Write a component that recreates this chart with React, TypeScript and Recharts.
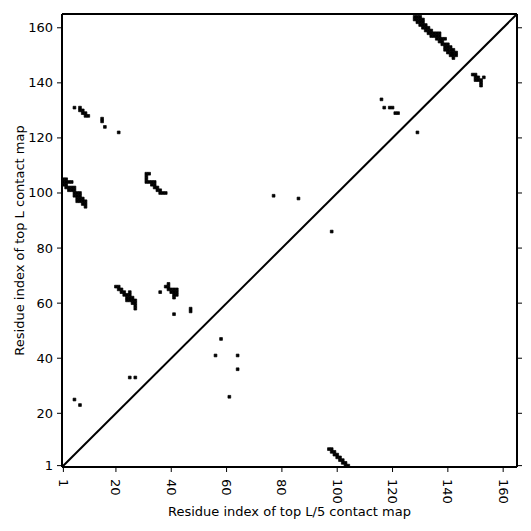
import React from 'react';
import { ComposedChart, XAxis, YAxis, ReferenceArea, ReferenceLine } from 'recharts';

// Contacts of the top L contact map (upper-left triangle): [residue i (x), residue j (y)]
const topLContacts: [number, number][] = [
  // cluster near (1..9, 95..105)
  [1, 105], [2, 105], [1, 104], [2, 104], [3, 104], [4, 104], [1, 103], [2, 103],
  [2, 102], [3, 102], [4, 102], [5, 102], [3, 101], [4, 101], [5, 101],
  [5, 100], [6, 100], [7, 100], [5, 99], [6, 99], [7, 99],
  [6, 98], [7, 98], [8, 98], [6, 97], [7, 97], [8, 97], [9, 97], [8, 96], [9, 96], [9, 95],
  // cluster near (5..21, 122..131)
  [5, 131], [7, 131], [7, 130], [8, 130], [8, 129], [9, 129], [9, 128], [10, 128],
  [15, 127], [15, 126], [16, 124], [21, 122],
  // cluster near (31..38, 100..107)
  [31, 107], [32, 107], [31, 106], [31, 105], [31, 104], [32, 104], [33, 104], [34, 104],
  [33, 103], [34, 103], [34, 102], [35, 102], [35, 101], [36, 101], [36, 100], [37, 100], [38, 100],
  // cluster near (20..27, 58..66)
  [20, 66], [21, 66], [21, 65], [22, 65], [22, 64], [23, 64], [25, 64],
  [23, 63], [24, 63], [25, 63], [24, 62], [25, 62], [26, 62],
  [24, 61], [25, 61], [26, 61], [27, 61], [26, 60], [27, 60], [27, 59], [27, 58],
  // cluster near (36..47, 56..67)
  [36, 64], [39, 67], [38, 66], [39, 66], [39, 65], [40, 65], [41, 65], [42, 65],
  [40, 64], [41, 64], [42, 64], [41, 63], [42, 63], [41, 62],
  [41, 56], [47, 58], [47, 57],
  // isolated points
  [58, 47], [56, 41], [64, 41], [64, 36], [61, 26], [25, 33], [27, 33], [5, 25], [7, 23],
  [77, 99], [86, 98],
  [116, 134], [117, 131], [119, 131], [120, 131], [121, 129], [122, 129],
  // cluster near (128..143, 149..164)
  [128, 164], [129, 164], [130, 164], [128, 163], [129, 163], [130, 163], [131, 163],
  [129, 162], [130, 162], [131, 162], [130, 161], [131, 161], [132, 161],
  [131, 160], [132, 160], [133, 160], [132, 159], [133, 159], [134, 159],
  [133, 158], [134, 158], [135, 158], [136, 158], [137, 158],
  [134, 157], [135, 157], [136, 157], [137, 157],
  [136, 156], [137, 156], [138, 156], [139, 156], [137, 155], [138, 155], [138, 154], [139, 154], [140, 154],
  [139, 153], [140, 153], [141, 153], [139, 152], [140, 152], [141, 152], [142, 152],
  [140, 151], [141, 151], [142, 151], [143, 151], [141, 150], [142, 150], [143, 150], [142, 149],
];

// Contacts of the top L/5 contact map (lower-right triangle)
const topL5Contacts: [number, number][] = [
  [98, 86], [129, 122],
  [149, 143], [150, 143], [150, 142], [151, 142], [153, 142],
  [150, 141], [151, 141], [152, 141], [152, 140], [152, 139],
  [97, 7], [98, 7], [98, 6], [99, 6], [99, 5], [100, 5], [100, 4], [101, 4],
  [101, 3], [102, 3], [102, 2], [103, 2], [103, 1], [104, 1],
];

const axisTicks = [1, 20, 40, 60, 80, 100, 120, 140, 160];
const axisDomain: [number, number] = [0.5, 165];

const FONT = 'DejaVu Sans';
const FS = 13;

const XTick = (props: any) => {
  const { x, y, payload } = props;
  return (
    <text
      x={x}
      y={y}
      transform={`rotate(90, ${x}, ${y})`}
      textAnchor="start"
      dominantBaseline="central"
      fontFamily={FONT}
      fontSize={FS}
      fill="#000"
    >
      {payload.value}
    </text>
  );
};

const YTick = (props: any) => {
  const { x, y, payload } = props;
  return (
    <text x={x} y={y} textAnchor="end" dominantBaseline="central" fontFamily={FONT} fontSize={FS} fill="#000">
      {payload.value}
    </text>
  );
};

const NoTick = () => <g />;

export default function App() {
  const cells = [...topLContacts, ...topL5Contacts];
  return (
    <div style={{ position: 'absolute', left: 0, top: 0, width: 531, height: 531, background: '#fff' }}>
      <ComposedChart width={531} height={531} margin={{ top: 13, right: 13, bottom: 0, left: 0 }}>
        <XAxis
          xAxisId="b"
          type="number"
          dataKey="x"
          domain={axisDomain}
          ticks={axisTicks}
          allowDataOverflow
          height={64}
          tickSize={5}
          tickMargin={7}
          axisLine={{ stroke: '#000', strokeWidth: 2 }}
          tickLine={{ stroke: '#000', strokeWidth: 1 }}
          tick={<XTick />}
          interval={0}
          label={{ value: 'Residue index of top L/5 contact map', position: 'insideBottom', offset: 15, fill: '#000', fontFamily: FONT, fontSize: FS }}
        />
        <XAxis
          xAxisId="t"
          orientation="top"
          type="number"
          domain={axisDomain}
          ticks={axisTicks}
          allowDataOverflow
          height={1}
          tickSize={5}
          axisLine={{ stroke: '#000', strokeWidth: 2 }}
          tickLine={{ stroke: '#000', strokeWidth: 1 }}
          tick={<NoTick />}
          interval={0}
        />
        <YAxis
          yAxisId="l"
          type="number"
          dataKey="y"
          domain={axisDomain}
          ticks={axisTicks}
          allowDataOverflow
          width={62}
          tickSize={5}
          tickMargin={4}
          axisLine={{ stroke: '#000', strokeWidth: 2 }}
          tickLine={{ stroke: '#000', strokeWidth: 1 }}
          tick={<YTick />}
          interval={0}
          label={{ value: 'Residue index of top L contact map', angle: -90, position: 'insideLeft', offset: 19, style: { textAnchor: 'middle' }, fill: '#000', fontFamily: FONT, fontSize: FS }}
        />
        <YAxis
          yAxisId="r"
          orientation="right"
          type="number"
          domain={axisDomain}
          ticks={axisTicks}
          allowDataOverflow
          width={1}
          tickSize={5}
          axisLine={{ stroke: '#000', strokeWidth: 2 }}
          tickLine={{ stroke: '#000', strokeWidth: 1 }}
          tick={<NoTick />}
          interval={0}
        />
        {cells.map(([cx, cy], i) => (
          <ReferenceArea
            key={i}
            xAxisId="b"
            yAxisId="l"
            x1={cx - 0.5}
            x2={cx + 0.5}
            y1={cy - 0.5}
            y2={cy + 0.5}
            fill="#000"
            fillOpacity={1}
            stroke="#000"
            strokeWidth={0.7}
            ifOverflow="hidden"
          />
        ))}
        <ReferenceLine
          xAxisId="b"
          yAxisId="l"
          segment={[{ x: axisDomain[0], y: axisDomain[0] }, { x: axisDomain[1], y: axisDomain[1] }]}
          stroke="#000"
          strokeWidth={2}
          ifOverflow="visible"
        />
      </ComposedChart>
    </div>
  );
}
